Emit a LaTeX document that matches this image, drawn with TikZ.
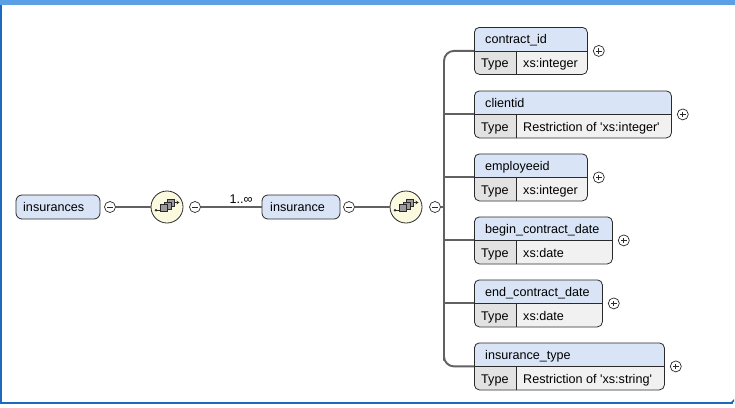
\documentclass[tikz,border=0pt]{standalone}
\usepackage{fontspec}
\setmainfont{Liberation Sans}
\usetikzlibrary{arrows.meta}
\definecolor{hdr}{HTML}{D9E5F7}
\definecolor{typel}{HTML}{E2E2E2}
\definecolor{typer}{HTML}{F1F1F1}
\definecolor{boxline}{HTML}{2A2A2A}
\definecolor{connc}{HTML}{616161}
\definecolor{seqfill}{HTML}{FBF9DE}
\definecolor{topbar}{HTML}{5B9FE4}
\definecolor{sidebar}{HTML}{1D69C2}
\definecolor{sqfill}{HTML}{9A9A9A}
\tikzset{
  elbox/.style={draw=boxline, rounded corners=5pt, inner sep=0pt, line width=0.8pt},
  topbox/.style={draw=boxline, fill=hdr, rounded corners=6pt, inner sep=0pt, line width=0.8pt, minimum height=24pt},
  conn/.style={draw=connc, line width=1.9pt},
  txt/.style={inner sep=0pt, anchor=base west},
  minusc/.style={circle, draw=boxline, fill=white, minimum size=11pt, inner sep=0pt, line width=0.7pt,
    path picture={\draw[line width=0.8pt, boxline] ([xshift=-2.8pt]path picture bounding box.center) -- ([xshift=2.8pt]path picture bounding box.center);}},
  plusc/.style={circle, draw=boxline, fill=white, minimum size=11pt, inner sep=0pt, line width=0.7pt,
    path picture={\draw[line width=0.8pt, boxline] ([xshift=-2.8pt]path picture bounding box.center) -- ([xshift=2.8pt]path picture bounding box.center)
      ([yshift=-2.8pt]path picture bounding box.center) -- ([yshift=2.8pt]path picture bounding box.center);}},
  seqc/.style={circle, draw=boxline, fill=seqfill, minimum size=32pt, inner sep=0pt, line width=0.8pt},
  sq/.style={draw=boxline, fill=sqfill, line width=0.6pt},
}
\newcommand\qq{\textquotesingle}
\newcommand\xelem[5]{%
  \pgfmathsetmacro\xdv{#2+23.5}%
  \pgfmathsetmacro\xbt{#2+47}%
  \begin{scope}
    \clip[rounded corners=5pt] (474,#2) rectangle (#3,\xbt);
    \fill[hdr] (474,#2) rectangle (#3,\xdv);
    \fill[typel] (474,\xdv) rectangle (516,\xbt);
    \fill[typer] (516,\xdv) rectangle (#3,\xbt);
  \end{scope}
  \node[elbox, anchor=north west, minimum width={(#3-474)*1pt}, minimum height=47pt] (#1) at (474,#2) {};
  \draw[boxline, line width=0.8pt] (#1.west) -- (#1.east);
  \draw[boxline, line width=0.8pt] (516,\xdv) -- (516,\xbt);
  \node[txt] (#1-n) at (485,{#2+16.5}) {#4};
  \node[txt] (#1-tk) at (481,{#2+40.5}) {Type};
  \node[txt] (#1-tv) at (523,{#2+40.5}) {#5};
  \node[plusc] (#1-p) at ([xshift=11pt]#1.east) {};
}
\newcommand\seqicon[1]{%
  \begin{scope}[shift={(#1)}]
    \draw[boxline, line width=0.8pt] (-11,3.2) -- (-6.5,3.2);
    \fill[boxline] (-11,3.2) circle (1.4pt);
    \draw[boxline, line width=0.8pt, -{Stealth[length=3pt,width=3.5pt]}] (7,-4.5) -- (12.5,-4.5);
    \draw[sq] (0.5,-7.5) rectangle (7.5,-0.5);
    \draw[sq] (-3,-5) rectangle (4,2);
    \draw[sq] (-6.5,-2.5) rectangle (0.5,4.5);
  \end{scope}
}
\begin{document}
\begin{tikzpicture}[x=1pt,y=-1pt, font=\fontsize{12.6}{14}\selectfont]
\useasboundingbox (0,0) rectangle (735,407);
\fill[white] (0,0) rectangle (735,407);
% window frame
\fill[topbar] (0,0) rectangle (735,5);
\fill[sidebar] (0,5) rectangle (2,404);
\fill[sidebar] (0,402) rectangle (733,404);
\fill[sidebar] (731,402) -- (734,399) -- (734,402) -- cycle;

% top-level elements
\node[topbox, minimum width=84pt] (insurances) at (58,207) {};
\node[txt] (insurances-t) at (23,211.5) {insurances};
\node[minusc] (m1) at (110,207) {};
\node[seqc] (seq1) at (167,207) {};
\seqicon{167,207}
\node[minusc] (m2) at (195,207) {};
\node[topbox, minimum width=78pt] (insurance) at (301,207) {};
\node[txt] (insurance-t) at (270,211.5) {insurance};
\node[minusc] (m3) at (349,207) {};
\node[seqc] (seq2) at (406,207) {};
\seqicon{406,207}
\node[minusc] (m4) at (435,207) {};
\node[inner sep=0pt, anchor=base] (mult) at (241,203.5) {1..∞};
\coordinate (trunk) at (444,207);

% children
\xelem{contract_id}{27}{587}{contract\_id}{xs:integer}
\xelem{clientid}{90.5}{671}{clientid}{Restriction of \qq xs:integer\qq}
\xelem{employeeid}{153.5}{587}{employeeid}{xs:integer}
\xelem{begin}{216.5}{612}{begin\_contract\_date}{xs:date}
\xelem{end}{279.5}{602}{end\_contract\_date}{xs:date}
\xelem{instype}{342.5}{664}{insurance\_type}{Restriction of \qq xs:string\qq}

% connectors
\draw[conn] (m1.east) -- (seq1.west);
\draw[conn] (m2.east) -- (insurance.west);
\draw[conn] (m3.east) -- (seq2.west);
\draw[conn] (m4.east) -- (trunk);
\draw[conn, rounded corners=10pt] (contract_id.west) -| (trunk |- instype.west) |- (instype.west);
\draw[conn] (trunk |- clientid.west) -- (clientid.west);
\draw[conn] (trunk |- employeeid.west) -- (employeeid.west);
\draw[conn] (trunk |- begin.west) -- (begin.west);
\draw[conn] (trunk |- end.west) -- (end.west);
\end{tikzpicture}
\end{document}
